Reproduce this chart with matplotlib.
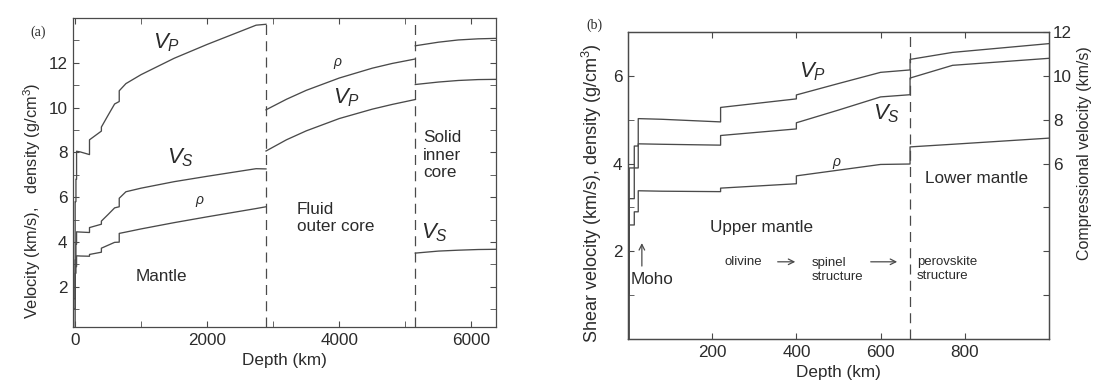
import matplotlib
matplotlib.use('Agg')
import matplotlib.pyplot as plt
from matplotlib.ticker import MultipleLocator, FixedLocator

plt.rcParams['font.family'] = ['Liberation Sans', 'DejaVu Sans']
plt.rcParams['mathtext.fontset'] = 'custom'
plt.rcParams['mathtext.it'] = 'Liberation Sans:italic'
plt.rcParams['mathtext.rm'] = 'Liberation Sans'

# crust + mantle (km, km/s, g/cm3), repeated depths are discontinuities
mantle_depth = [0, 3, 3, 15, 15, 24.4, 24.4, 80, 220, 220, 400, 400, 500, 600, 670, 670,
                771, 1000, 1500, 2000, 2500, 2741, 2891]
mantle_vp = [1.45, 1.45, 5.8, 5.8, 6.8, 6.8, 8.05, 8.02, 7.9, 8.56, 8.95, 9.13, 9.65, 10.16,
             10.27, 10.75, 11.07, 11.47, 12.2, 12.82, 13.4, 13.68, 13.72]
mantle_vs = [0, 0, 3.2, 3.2, 3.9, 3.9, 4.45, 4.44, 4.42, 4.64, 4.79, 4.93, 5.22, 5.52,
             5.57, 5.95, 6.24, 6.40, 6.69, 6.93, 7.16, 7.27, 7.26]
mantle_rho = [1.02, 1.02, 2.6, 2.6, 2.9, 2.9, 3.38, 3.37, 3.36, 3.44, 3.54, 3.72, 3.85, 3.98,
              3.99, 4.38, 4.44, 4.58, 4.86, 5.12, 5.37, 5.49, 5.57]

# fluid outer core
core_depth = [2891, 3200, 3500, 4000, 4500, 4800, 5150]
core_vp = [8.06, 8.56, 8.96, 9.51, 9.93, 10.14, 10.36]
core_rho = [9.90, 10.37, 10.77, 11.32, 11.76, 11.97, 12.17]

# solid inner core
inner_depth = [5150, 5500, 5800, 6100, 6371]
inner_vp = [11.03, 11.14, 11.21, 11.25, 11.26]
inner_vs = [3.50, 3.59, 3.63, 3.66, 3.67]
inner_rho = [12.76, 12.92, 13.02, 13.07, 13.09]

boundaries_a = [2891, 5150]
boundary_b = 670

lc = '#4a4a4a'
tc = '#2b2b2b'
fs = 12.3

fig = plt.figure(figsize=(10.99, 3.8), dpi=100)

# ---------------- (a) whole earth ----------------
axa = fig.add_axes([0.0664, 0.1395, 0.3849, 0.8131])
for d, v in [(mantle_depth, mantle_vp), (mantle_depth, mantle_vs), (mantle_depth, mantle_rho),
             (core_depth, core_vp), (core_depth, core_rho),
             (inner_depth, inner_vp), (inner_depth, inner_vs), (inner_depth, inner_rho)]:
    axa.plot(d, v, color=lc, lw=0.95)
for b in boundaries_a:
    axa.axvline(b, color=lc, lw=0.9, ls=(0, (8, 5)))

axa.set_xlim(-30, 6371)
axa.set_ylim(0.2, 14)
axa.xaxis.set_major_locator(MultipleLocator(2000))
axa.xaxis.set_minor_locator(MultipleLocator(1000))
axa.yaxis.set_major_locator(FixedLocator([2, 4, 6, 8, 10, 12]))
axa.yaxis.set_minor_locator(MultipleLocator(1))
axa.tick_params(which='both', direction='in', top=True, right=True, length=4,
                color=lc, labelsize=fs, labelcolor=tc, pad=4)
axa.set_xlabel('Depth (km)', fontsize=fs, color=tc, labelpad=4)
axa.set_ylabel('Velocity (km/s),   density (g/cm$^3$)', fontsize=11.8, color=tc)
axa.yaxis.set_label_coords(-0.07, 0.41)

axa.text(1390, 12.9, r'$V_P$', fontsize=16, color=tc, ha='center', va='center')
axa.text(1600, 7.75, r'$V_S$', fontsize=16, color=tc, ha='center', va='center')
axa.text(1890, 5.8, r'$\rho$', fontsize=10, color=tc, ha='center', va='center')
axa.text(1316, 2.44, 'Mantle', fontsize=fs, color=tc, ha='center', va='center')
axa.text(3360, 5.07, 'Fluid\nouter core', fontsize=fs, color=tc, ha='left', va='center',
         linespacing=1.2)
axa.text(3980, 11.95, r'$\rho$', fontsize=10, color=tc, ha='center', va='center')
axa.text(4115, 10.45, r'$V_P$', fontsize=16, color=tc, ha='center', va='center')
axa.text(5265, 7.87, 'Solid\ninner\ncore', fontsize=fs, color=tc, ha='left', va='center',
         linespacing=1.2)
axa.text(5446, 4.4, r'$V_S$', fontsize=16, color=tc, ha='center', va='center')

# ---------------- (b) upper 1000 km ----------------
axb = fig.add_axes([0.5714, 0.1079, 0.3831, 0.8079])
axb2 = axb.twinx()
axb.plot(mantle_depth, mantle_vs, color=lc, lw=0.95)
axb.plot(mantle_depth, mantle_rho, color=lc, lw=0.95)
axb2.plot(mantle_depth, mantle_vp, color=lc, lw=0.95)
axb.axvline(boundary_b, color=lc, lw=0.9, ls=(0, (8, 5)))

axb.set_xlim(0, 1000)
axb.set_ylim(0, 7)
axb2.set_ylim(-2, 12)
axb.xaxis.set_major_locator(FixedLocator([200, 400, 600, 800]))
axb.yaxis.set_major_locator(FixedLocator([2, 4, 6]))
axb.yaxis.set_minor_locator(MultipleLocator(1))
axb2.set_yticks([0, 2, 4, 6, 8, 10, 12], ['', '', '', '6', '8', '10', '12'])
axb.tick_params(which='both', direction='in', top=True, right=False, length=4,
                color=lc, labelsize=fs, labelcolor=tc, pad=4)
axb2.tick_params(which='both', direction='in', length=4, color=lc,
                 labelsize=fs, labelcolor=tc, pad=3)
axb.set_xlabel('Depth (km)', fontsize=fs, color=tc, labelpad=4)
axb.set_ylabel('Shear velocity (km/s), density (g/cm$^3$)', fontsize=13, color=tc)
axb.yaxis.set_label_coords(-0.058, 0.475)
axb2.set_ylabel('Compressional velocity (km/s)', fontsize=11.5, color=tc)
axb2.yaxis.set_label_coords(1.066, 0.605)

axb.text(439, 6.1, r'$V_P$', fontsize=16, color=tc, ha='center', va='center')
axb.text(615, 5.13, r'$V_S$', fontsize=16, color=tc, ha='center', va='center')
axb.text(496, 4.0, r'$\rho$', fontsize=10, color=tc, ha='center', va='center')
axb.text(829, 3.67, 'Lower mantle', fontsize=fs, color=tc, ha='center', va='center')
axb.text(318, 2.55, 'Upper mantle', fontsize=fs, color=tc, ha='center', va='center')
axb.text(273, 1.76, 'olivine', fontsize=9.5, color=tc, ha='center', va='center')
axb.text(437, 1.57, 'spinel\nstructure', fontsize=9.5, color=tc, ha='left', va='center')
axb.text(686, 1.6, 'perovskite\nstructure', fontsize=9.5, color=tc, ha='left', va='center')
axb.annotate('', xy=(404, 1.76), xytext=(349, 1.76),
             arrowprops=dict(arrowstyle='->', color=lc, lw=0.9))
axb.annotate('', xy=(646, 1.76), xytext=(570, 1.76),
             arrowprops=dict(arrowstyle='->', color=lc, lw=0.9))
axb.annotate('', xy=(33, 2.25), xytext=(33, 1.6),
             arrowprops=dict(arrowstyle='->', color=lc, lw=0.9))
axb.text(57, 1.35, 'Moho', fontsize=fs, color=tc, ha='center', va='center')

for ax in (axa, axb, axb2):
    for s in ax.spines.values():
        s.set_color(lc)
        s.set_linewidth(0.9)

fig.text(0.0346, 0.916, '(a)', fontsize=10, color=tc, family='Liberation Serif',
         ha='center', va='center')
fig.text(0.541, 0.934, '(b)', fontsize=10, color=tc, family='Liberation Serif',
         ha='center', va='center')

fig.savefig('out.png', dpi=100)
